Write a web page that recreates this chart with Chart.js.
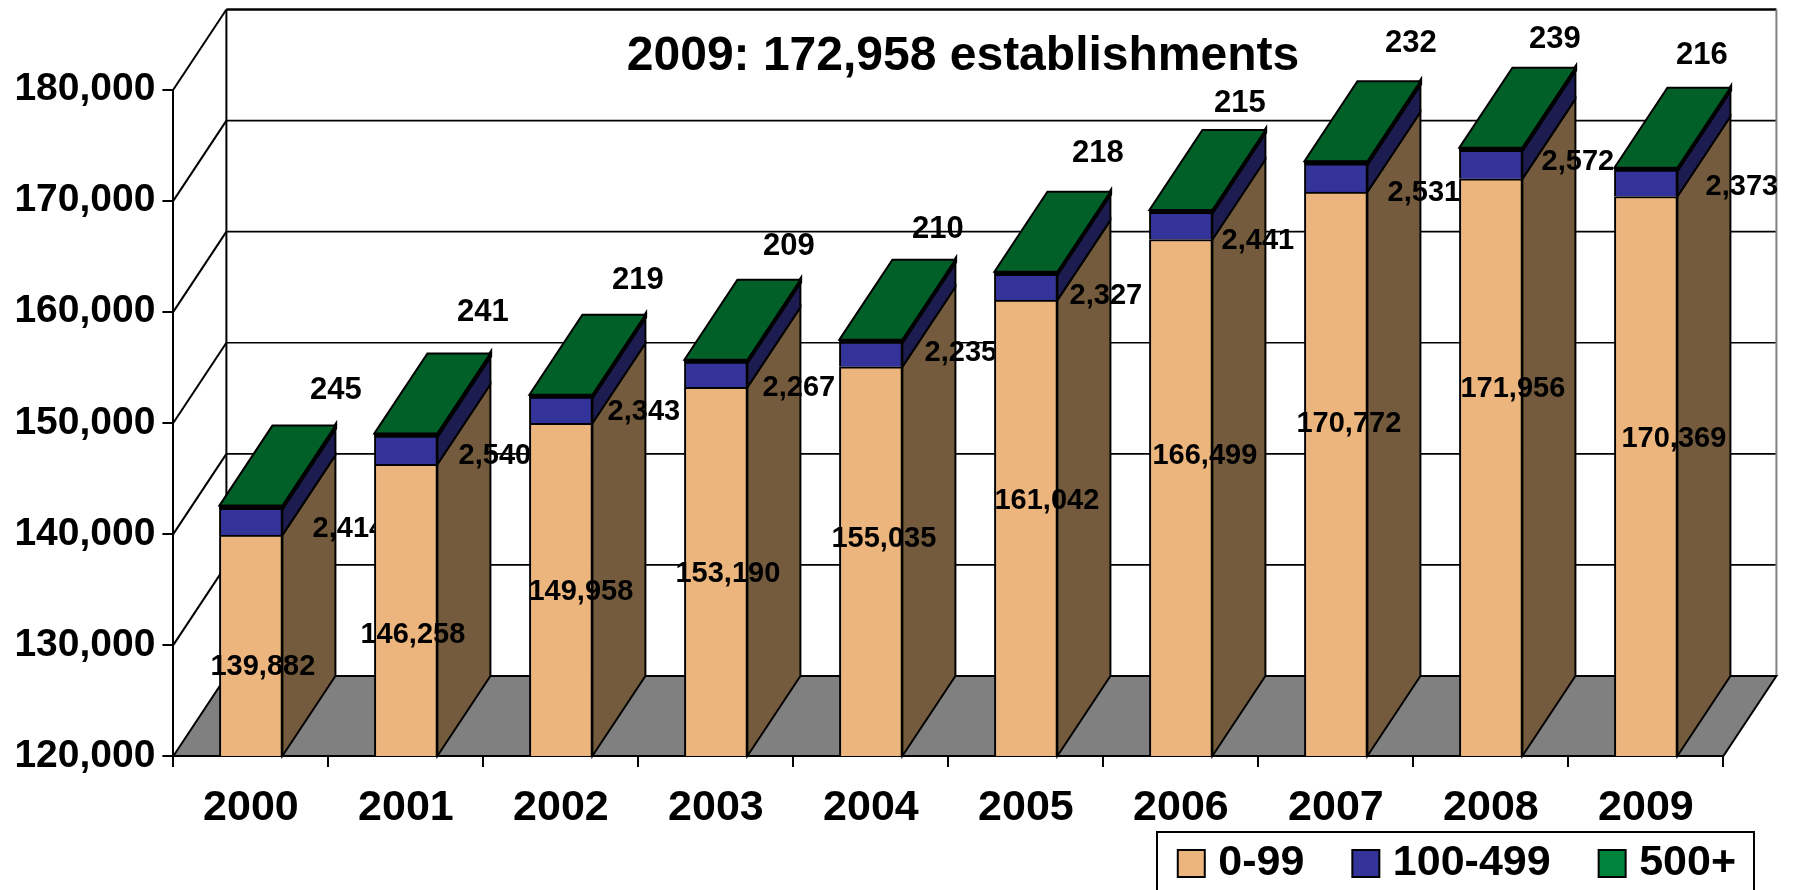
<!DOCTYPE html>
<html><head><meta charset="utf-8">
<style>html,body{margin:0;padding:0;background:#fff}canvas{display:block}</style>
<script src="https://cdn.jsdelivr.net/npm/chart.js@4"></script>
</head><body><canvas id="c" width="1793" height="890"></canvas>
<script>
const years = ['2000','2001','2002','2003','2004','2005','2006','2007','2008','2009'];
const small = [139882,146258,149958,153190,155035,161042,166499,170772,171956,170369];
const medium = [2414,2540,2343,2267,2235,2327,2441,2531,2572,2373];
const large = [245,241,219,209,210,218,215,232,239,216];
const seriesNames = ['0-99','100-499','500+'];
const titleText = '2009: 172,958 establishments';

// label nudges relative to each segment centre (pixels)
const nudgeX = [
 [12,7,20,12,13,21,24,13,22,28],
 [98,89,83,83,90,80,77,88,87,96],
 [85,77,77,73,67,72,59,75,64,56]];
const nudgeY = [
 [21,25,2,2,-22,-27,-42,-50,-78,-37],
 [7,6,2,13,-1,9,15,15,-3,4],
 [-117,-122,-116,-115,-111,-120,-108,-119,-110,-113]];

const FONT = '"Liberation Sans", Arial, sans-serif';
const DX = 53, DY = 80;
const sideColors = ['#755B3D','#1C1C50','#00501F'];
const topColor = '#006028';

function poly(ctx, pts, fill, stroke, lw){
  ctx.beginPath();
  pts.forEach((p,i)=> i?ctx.lineTo(p[0],p[1]):ctx.moveTo(p[0],p[1]));
  ctx.closePath();
  if(fill){ctx.fillStyle=fill;ctx.fill();}
  if(stroke){ctx.strokeStyle=stroke;ctx.lineWidth=lw||2;ctx.lineJoin='miter';ctx.stroke();}
}
function line(ctx,x1,y1,x2,y2,c,lw){
  ctx.beginPath();ctx.moveTo(x1,y1);ctx.lineTo(x2,y2);ctx.strokeStyle=c||'#000';ctx.lineWidth=lw||2;ctx.stroke();
}

const box3d = {
  id:'box3d',
  beforeLayout(chart){
    const lg = chart.legend;
    if(!lg._fitWrapped){
      const fit = lg.fit;
      lg.fit = function(){ fit.call(this); this.height = 58; };
      lg._fitWrapped = true;
    }
  },
  afterLayout(chart){
    const lg = chart.legend;
    const w = lg.right-lg.left;
    lg.right = 1792; lg.left = lg.right-w;
    lg.top = 786; lg.bottom = 890;
  },
  beforeDatasetsDraw(chart){
    const {ctx, chartArea:a, scales:{y}} = chart;
    ctx.save();
    // walls and grid
    y.ticks.forEach(t=>{
      const py = y.getPixelForValue(t.value);
      if(t.value>y.min){
        line(ctx,a.left,py,a.left+DX,py-DY,'#000',2);
        line(ctx,a.left+DX,py-DY,a.right+DX,py-DY,'#000',t.value===y.max?2.5:1.6);
      }
    });
    line(ctx,a.left+DX,a.top-DY,a.left+DX,a.bottom-DY,'#000',2);
    line(ctx,a.right+DX,a.top-DY,a.right+DX,a.bottom-DY,'#808080',2);
    // floor
    poly(ctx,[[a.left,a.bottom],[a.left+DX,a.bottom-DY],[a.right+DX,a.bottom-DY],[a.right,a.bottom]],'#808080','#000',2);
    // sides
    chart.data.datasets.forEach((ds,d)=>{
      chart.getDatasetMeta(d).data.forEach(el=>{
        const r = el.x+el.width/2, b = Math.min(el.base,a.bottom);
        poly(ctx,[[r,el.y],[r+DX,el.y-DY],[r+DX,b-DY],[r,b]],sideColors[d],'#000',d===2?3.5:2);
      });
    });
    // top faces
    const last = chart.data.datasets.length-1;
    chart.getDatasetMeta(last).data.forEach(el=>{
      const l = el.x-el.width/2, r = el.x+el.width/2;
      poly(ctx,[[l,el.y],[l+DX,el.y-DY],[r+DX,el.y-DY],[r,el.y]],topColor,'#000',2);
    });
    ctx.restore();
  },
  afterDatasetsDraw(chart){
    // the thin top segment reads as a heavy dark edge on the front face
    const {ctx} = chart;
    const last = chart.data.datasets.length-1;
    ctx.save();
    ctx.fillStyle='#000';
    chart.getDatasetMeta(last).data.forEach(el=>{
      ctx.fillRect(el.x-el.width/2,el.y-0.5,el.width,el.base-el.y+1);
    });
    ctx.restore();
  },
  afterDraw(chart){
    const {ctx, chartArea:a} = chart;
    ctx.save();
    ctx.textAlign='center';ctx.textBaseline='middle';ctx.fillStyle='#000';
    chart.data.datasets.forEach((ds,d)=>{
      const els = chart.getDatasetMeta(d).data;
      ctx.font = 'bold '+(d===2?31:29)+'px '+FONT;
      els.forEach((el,i)=>{
        ctx.save();
        if(d===1 && i<els.length-1){
          const n = els[i+1];
          ctx.beginPath();ctx.rect(el.x,0,n.x-n.width/2-el.x,chart.height);ctx.clip();
        }
        ctx.fillText(ds.data[i].toLocaleString('en-US'),el.x+nudgeX[d][i],(el.y+Math.min(el.base,a.bottom))/2+nudgeY[d][i]);
        ctx.restore();
      });
    });
    ctx.font='bold 48px '+FONT;
    ctx.fillText(titleText,963,57);
    // legend frame
    ctx.strokeStyle='#000';ctx.lineWidth=2;
    ctx.strokeRect(1157,832,597,60);
    ctx.restore();
  }
};

new Chart(document.getElementById('c'),{
  type:'bar',
  data:{labels:years,datasets:[
    {label:seriesNames[0],data:small,backgroundColor:'#EBB57D',borderColor:'#000',borderWidth:2,barThickness:63},
    {label:seriesNames[1],data:medium,backgroundColor:'#333399',borderColor:'#000',borderWidth:2,barThickness:63},
    {label:seriesNames[2],data:large,backgroundColor:'#00843C',borderColor:'#000',borderWidth:2,barThickness:63}
  ]},
  options:{
    responsive:false,animation:false,devicePixelRatio:1,
    layout:{padding:{top:89.5,right:69.6,left:0,bottom:0}},
    plugins:{
      title:{display:false},tooltip:{enabled:false},
      legend:{display:true,position:'bottom',align:'end',
        labels:{usePointStyle:true,pointStyle:'rect',boxWidth:11,boxHeight:27,padding:56,color:'#000',
          font:{family:FONT,size:43,weight:'bold'}}}
    },
    scales:{
      x:{stacked:true,
        grid:{drawOnChartArea:false,color:'#000',lineWidth:2,tickLength:11,offset:true},
        border:{color:'#000',width:2},
        ticks:{color:'#000',padding:15,maxRotation:0,font:{family:FONT,size:43,weight:'bold'}},
        afterFit(s){s.height = 76;}
      },
      y:{stacked:true,min:120000,max:180000,
        grid:{drawOnChartArea:false,color:'#000',lineWidth:2,tickLength:11},
        border:{color:'#000',width:2},
        ticks:{stepSize:10000,color:'#000',padding:7,font:{family:FONT,size:39,weight:'bold'},
          callback:v=>v.toLocaleString('en-US')},
        afterFit(s){s.width = 173.4;}
      }
    }
  },
  plugins:[box3d]
});
</script></body></html>
